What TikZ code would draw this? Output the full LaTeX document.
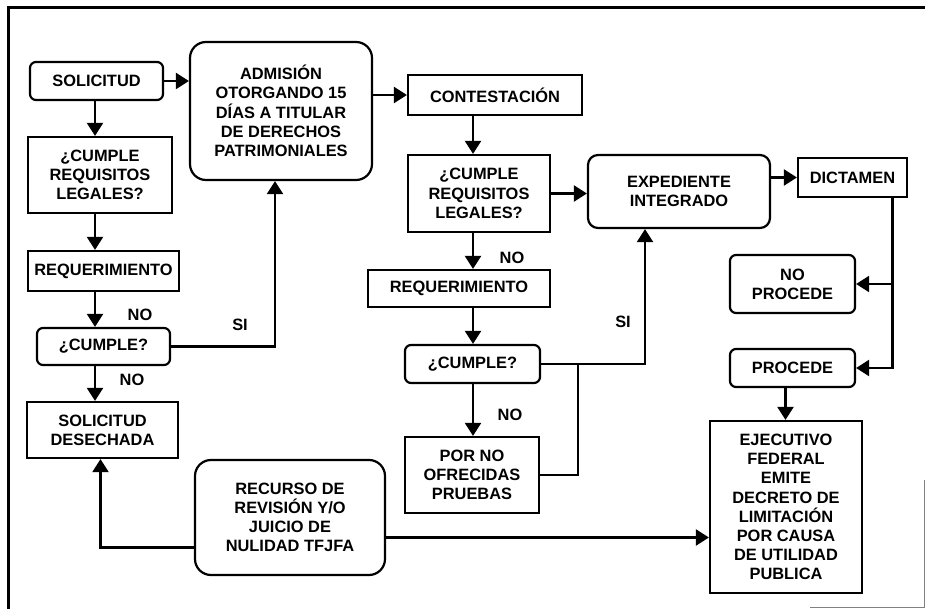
\documentclass[tikz,border=0pt]{standalone}
\usepackage{fontspec}
\setmainfont{Liberation Sans}
\usetikzlibrary{arrows.meta}

\begin{document}
\begin{tikzpicture}[x=0.5pt, y=-0.5pt,
    every node/.style={font=\bfseries\fontsize{8.2}{9.6}\selectfont, align=center},
    sz/.style 2 args={minimum width=#1*0.5pt, minimum height=#2*0.5pt},
    box/.style={draw, line width=1.1pt, inner sep=0pt},
    rbox/.style={box, rounded corners=3pt},
    bigbox/.style={box, rounded corners=8pt},
    link/.style={line width=1.1pt, -{Triangle[length=6.5pt,width=8pt]}},
    wire/.style={line width=1.1pt}]

    % Page and frame
    \useasboundingbox (0,0) rectangle (925,609);
    \draw[line width=1.5pt] (8,609) -- (8,8) -- (925,8);
    \draw[line width=0.4pt, gray] (810,607) -- (924,607) -- (924,480);

    % First stage
    \node[rbox, sz={133}{38}] (sol) at (96.5,81) {SOLICITUD};
    \node[bigbox, sz={182}{138}] (adm) at (281,111) {ADMISIÓN\\OTORGANDO 15\\DÍAS A TITULAR\\DE DERECHOS\\PATRIMONIALES};
    \node[box, sz={144}{76}] (req1) at (100,175) {¿CUMPLE\\REQUISITOS\\LEGALES?};
    \node[box, sz={151}{40}] (rq1) at (103.5,271) {REQUERIMIENTO};
    \node[rbox, sz={133}{37}] (cum1) at (103.5,346.5) {¿CUMPLE?};
    \node[box, sz={151}{56}] (des) at (102.5,430) {SOLICITUD\\DESECHADA};
    \node[bigbox, sz={190}{115}] (rec) at (290,517.5) {RECURSO DE\\REVISIÓN Y/O\\JUICIO DE\\NULIDAD TFJFA};

    % Second stage
    \node[box, sz={174}{40}] (con) at (495,95) {CONTESTACIÓN};
    \node[box, sz={142}{77}] (req2) at (479,193.5) {¿CUMPLE\\REQUISITOS\\LEGALES?};
    \node[box, sz={182}{37}] (rq2) at (459,288.5) {REQUERIMIENTO};
    \node[rbox, sz={135}{38}] (cum2) at (472.5,364) {¿CUMPLE?};
    \node[box, sz={134}{76}] (pnp) at (472,475) {POR NO\\OFRECIDAS\\PRUEBAS};

    % Final stage
    \node[bigbox, rounded corners=5pt, sz={182}{73}] (exp) at (679,191.5) {EXPEDIENTE\\INTEGRADO};
    \node[box, sz={109}{39}] (dic) at (852.5,177.5) {DICTAMEN};
    \node[rbox, sz={125}{58}] (nop) at (792.5,284) {NO\\PROCEDE};
    \node[rbox, sz={125}{38}] (pro) at (792.5,368) {PROCEDE};
    \node[box, sz={152}{172}] (eje) at (786,507) {EJECUTIVO\\FEDERAL\\EMITE\\DECRETO DE\\LIMITACIÓN\\POR CAUSA\\DE UTILIDAD\\PUBLICA};

    % Columns of the vertical arrows
    \coordinate (lc) at (95,0);
    \coordinate (mc) at (473,0);

    % Left column
    \draw[link] (sol.east) -- (sol.east -| adm.west);
    \draw[link] (lc |- sol.south) -- (lc |- req1.north);
    \draw[link] (lc |- req1.south) -- (lc |- rq1.north);
    \draw[link] (lc |- rq1.south) -- (lc |- cum1.north);
    \draw[link] (lc |- cum1.south) -- (lc |- des.north);
    \draw[link] (cum1.east) -| ([xshift=-3pt]adm.south);
    \draw[link] ([yshift=-15pt]rec.west) -| ([xshift=-1pt]des.south);
    \draw[link] ([yshift=-10pt]rec.east) -- ([yshift=-10pt]rec.east -| eje.west);

    % Middle column
    \draw[link] (adm.east |- con.west) -- (con.west);
    \draw[link] (mc |- con.south) -- (mc |- req2.north);
    \draw[link] (mc |- req2.south) -- (mc |- rq2.north);
    \draw[link] (mc |- rq2.south) -- (mc |- cum2.north);
    \draw[link] (mc |- cum2.south) -- (mc |- pnp.north);
    \draw[link] (req2.east) -- (req2.east -| exp.west);
    \draw[link] (cum2.east) -| ([xshift=-17pt]exp.south);
    \draw[wire] (pnp.east) -| ([xshift=18.5pt]cum2.east);

    % Right column
    \draw[link] (exp.east |- dic.west) -- (dic.west);
    \draw[link] ([xshift=20pt]dic.south) |- (pro.east);
    \draw[link] ([xshift=20pt]dic.south |- nop.east) -- (nop.east);
    \draw[link] ([xshift=-3.5pt]pro.south) -- ([xshift=-3.5pt]pro.south |- eje.north);

    % Labels
    \node (no1) at (140,315) {NO};
    \node (si1) at (240,325) {SI};
    \node (no2) at (132,380) {NO};
    \node (no3) at (512,258) {NO};
    \node (no4) at (510,415) {NO};
    \node (si2) at (623,322) {SI};

\end{tikzpicture}
\end{document}
